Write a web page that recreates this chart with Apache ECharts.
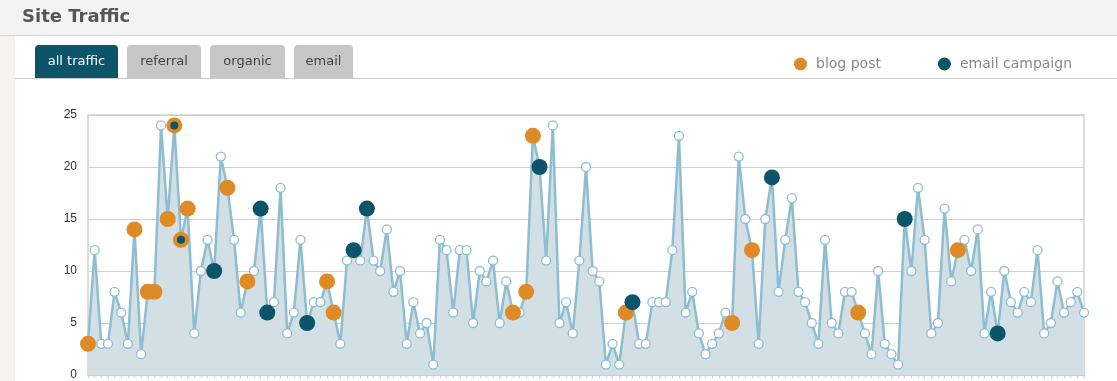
<!DOCTYPE html>
<html>
<head>
<meta charset="utf-8">
<script src="https://cdn.jsdelivr.net/npm/echarts@6/dist/echarts.min.js"></script>
<style>
  html, body { margin: 0; padding: 0; background: #fff; }
  #chart { width: 1117px; height: 381px; }
</style>
</head>
<body>
<div id="chart"></div>
<script>
// ---- data ----
var traffic = [
  3,12,3,3,8,6,3,14,2,8,
  8,24,15,24,13,16,4,10,13,10,
  21,18,13,6,9,10,16,6,7,18,
  4,6,13,5,7,7,9,6,3,11,
  12,11,16,11,10,14,8,10,3,7,
  4,5,1,13,12,6,12,12,5,10,
  9,11,5,9,6,6,8,23,20,11,
  24,5,7,4,11,20,10,9,1,3,
  1,6,7,3,3,7,7,7,12,23,
  6,8,4,2,3,4,6,5,21,15,
  12,3,15,19,8,13,17,8,7,5,
  3,13,5,4,8,8,6,4,2,10,
  3,2,1,15,10,18,13,4,5,16,
  9,12,13,10,14,4,8,4,10,7,
  6,8,7,12,4,5,9,6,7,8,6
];
var categories = traffic.map(function (_, i) { return 'Day ' + (i + 1); });
// indices (0-based) of days with events
var blogPostDays = [0,7,9,10,12,13,14,15,21,24,36,37,64,66,67,81,97,100,116,131];
var emailCampaignDays = [13,14,19,26,27,33,40,42,68,82,103,123,137];
var yTicks = { min: 0, max: 25, interval: 5 };
var tabLabels = ['all traffic', 'referral', 'organic', 'email'];
var titleText = 'Site Traffic';

// ---- build ----
var blogData = blogPostDays.map(function (d) { return [d, traffic[d]]; });
var emailData = emailCampaignDays.map(function (d) { return [d, traffic[d]]; });

var tabBoxes = [[35, 83], [127, 74], [210, 75], [294, 59]];
var graphics = [
  { type: 'rect', shape: { x: 0, y: 0, width: 1117, height: 35 }, style: { fill: '#f3f3f3' }, silent: true },
  { type: 'rect', shape: { x: 0, y: 35, width: 15, height: 346 }, style: { fill: '#f4f3ef' }, silent: true },
  { type: 'line', shape: { x1: 0, y1: 35.5, x2: 1117, y2: 35.5 }, style: { stroke: '#d4d4d4', lineWidth: 1 }, silent: true },
  { type: 'text', x: 22, y: 17, style: { text: titleText, fill: '#555555', font: 'bold 18px "DejaVu Sans"', textVerticalAlign: 'middle' }, silent: true },
  { type: 'line', shape: { x1: 15, y1: 78.5, x2: 1117, y2: 78.5 }, style: { stroke: '#cccccc', lineWidth: 1 }, silent: true }
];
tabLabels.forEach(function (t, i) {
  var b = tabBoxes[i];
  var active = i === 0;
  graphics.push({ type: 'rect', shape: { x: b[0], y: 45, width: b[1], height: 33, r: [4, 4, 0, 0] },
    style: { fill: active ? '#0b5469' : '#c6c6c6' }, silent: true });
  graphics.push({ type: 'text', x: b[0] + b[1] / 2, y: 62,
    style: { text: t, fill: active ? '#ffffff' : '#444444', font: '13px "DejaVu Sans"', textAlign: 'center', textVerticalAlign: 'middle' }, silent: true });
});

var chart = echarts.init(document.getElementById('chart'), null, { renderer: 'canvas' });
chart.setOption({
  animation: false,
  backgroundColor: '#ffffff',
  graphic: graphics,
  legend: {
    left: 789, top: 52,
    icon: 'circle', itemWidth: 13, itemHeight: 13, itemGap: 57,
    textStyle: { color: '#888888', fontSize: 14, fontFamily: 'DejaVu Sans', padding: [0, 0, 0, 4] },
    data: ['blog post', 'email campaign']
  },
  grid: { left: 88, right: 33, top: 115, bottom: 3, show: true, borderColor: '#dcdcdc', borderWidth: 2, backgroundColor: 'transparent' },
  xAxis: {
    type: 'category', data: categories, boundaryGap: false,
    axisLine: { show: false },
    axisTick: { show: true, interval: 0, length: 3, lineStyle: { color: '#cccccc' } },
    axisLabel: { show: false },
    splitLine: { show: false }
  },
  yAxis: {
    type: 'value', min: yTicks.min, max: yTicks.max, interval: yTicks.interval,
    axisLine: { show: false }, axisTick: { show: false },
    axisLabel: { color: '#333333', fontSize: 12, fontFamily: 'Liberation Sans', margin: 11 },
    splitLine: { lineStyle: { color: '#cfcfcf', width: 1 } }
  },
  series: [
    {
      name: 'traffic', type: 'line', data: traffic,
      showAllSymbol: true, symbol: 'circle', symbolSize: 9,
      lineStyle: { color: '#8ebdd1', width: 2.5 },
      itemStyle: { color: '#ffffff', borderColor: '#8ebdd1', borderWidth: 1.3 },
      areaStyle: { color: '#d2e0e6', opacity: 1 },
      z: 2
    },
    {
      name: 'blog post', type: 'scatter', data: blogData,
      symbol: 'circle', symbolSize: 16,
      itemStyle: { color: '#dd8a27', opacity: 1 },
      z: 3
    },
    {
      name: 'email campaign', type: 'scatter', data: emailData,
      symbol: 'circle',
      symbolSize: function (val, params) {
        return blogPostDays.indexOf(emailCampaignDays[params.dataIndex]) >= 0 ? 8 : 16;
      },
      itemStyle: { color: '#0b5469', opacity: 1 },
      z: 4
    }
  ]
});
</script>
</body>
</html>
